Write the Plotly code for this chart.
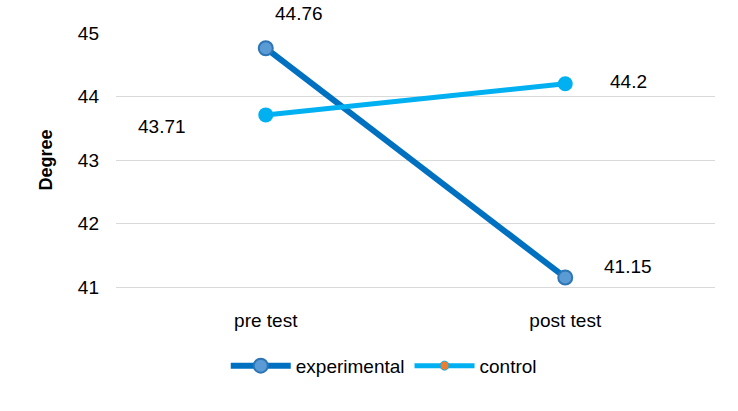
import plotly.graph_objects as go

categories = ['pre test', 'post test']
experimental = [44.76, 41.15]
control = [43.71, 44.2]
y_ticks = [41, 42, 43, 44, 45]

font = 'Liberation Sans'
exp_line = '#0070C0'
exp_marker = '#5B9BD5'
ctl_line = '#00B0F0'

fig = go.Figure()

fig.add_trace(go.Scatter(
    x=categories, y=experimental, name='experimental', mode='lines+markers',
    line=dict(color=exp_line, width=6),
    marker=dict(size=14, color=exp_marker, line=dict(color='#2E75B6', width=2))))

fig.add_trace(go.Scatter(
    x=categories, y=control, name='control', mode='lines+markers',
    line=dict(color=ctl_line, width=5), showlegend=False,
    marker=dict(size=15, color=ctl_line)))

# legend entry for control shows an orange marker in the original
fig.add_trace(go.Scatter(
    x=[None], y=[None], name='control', mode='lines+markers',
    line=dict(color=ctl_line, width=5),
    marker=dict(size=9, color='#ED7D31', line=dict(color=ctl_line, width=1))))

# data labels, nudged like the original
offsets_exp = [(33, 35), (63, 11)]
offsets_ctl = [(-104, -12), (63, 2)]
for vals, offs in [(experimental, offsets_exp), (control, offsets_ctl)]:
    for c, v, (dx, dy) in zip(categories, vals, offs):
        fig.add_annotation(x=c, y=v, text=str(v), showarrow=False,
                           xshift=dx, yshift=dy,
                           font=dict(family=font, size=19, color='#000000'))

fig.update_layout(
    width=738, height=411,
    margin=dict(l=116, r=23, t=33, b=124),
    plot_bgcolor='white', paper_bgcolor='white',
    font=dict(family=font, size=19, color='#000000'),
    showlegend=True,
    legend=dict(orientation='h', x=0.447, xanchor='center',
                yref='container', y=0.11, yanchor='middle',
                font=dict(family=font, size=19), itemwidth=60, tracegroupgap=0),
)
fig.update_xaxes(range=[-0.5, 1.5], showgrid=False, showline=True,
                 linecolor='#D9D9D9', linewidth=1, ticks='', automargin=False,
                 ticklabelstandoff=16, tickfont=dict(size=19))
fig.update_yaxes(range=[41, 45], tickvals=y_ticks, showgrid=True,
                 gridcolor='#D9D9D9', gridwidth=1, zeroline=False, automargin=False,
                 ticklabelstandoff=16, tickfont=dict(size=19),
                 title=dict(text='<b>Degree</b>', standoff=20, font=dict(size=18)))

# drop the page's default body margin so the figure sits at the top-left corner
fig.write_html("out.html", config={'displayModeBar': False},
               post_script="document.body.style.margin='0px';")
